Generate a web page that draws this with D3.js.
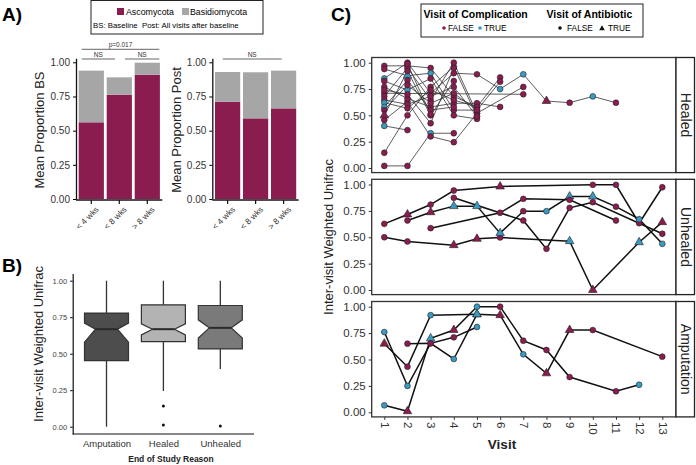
<!DOCTYPE html>
<html><head><meta charset="utf-8">
<script src="https://cdn.jsdelivr.net/npm/d3@7"></script>
<style>
html,body{margin:0;padding:0;background:#fff;}
svg{display:block;font-family:"Liberation Sans",Arial,sans-serif;}
</style></head>
<body><svg id="c" width="696" height="465"></svg>
<script>
// ---------- DATA ----------
const barCats = ["< 4 wks", "< 8 wks", "> 8 wks"];
const bsAsco = [0.561, 0.763, 0.909];
const bsBasidio = [0.378, 0.127, 0.088];
const postAsco = [0.712, 0.590, 0.663];
const postBasidio = [0.217, 0.337, 0.276];
const barTicks = [0, 0.25, 0.5, 0.75, 1];

const boxGroups = ["Amputation", "Healed", "Unhealed"];
const boxMin = [0.0, 0.245, 0.396];
const boxQ1 = [0.453, 0.583, 0.533];
const boxMed = [0.668, 0.668, 0.677];
const boxQ3 = [0.778, 0.835, 0.830];
const boxMax = [1.0, 1.0, 1.0];
const boxNotchLo = [0.579, 0.629, 0.607];
const boxNotchHi = [0.71, 0.705, 0.732];
const boxOutliers = [[], [0.142, 0.012], [0.005]];
const boxFill = ["#4d4d4d", "#b3b3b3", "#7a7a7a"];

const visits = [1,2,3,4,5,6,7,8,9,10,11,12,13];
const facetNames = ["Healed", "Unhealed", "Amputation"];
// each series: visits, values, complication flags, antibiotic flags
const healedVisits = [
 [1,2,3,4],[1,2,3,4,5],[1,2],[1,2,3,4,5],[1,2,3,4,5,6],[1,2,3,4,5,6],
 [1,2,3,4,5,6,7,8,9,10,11],[1,2,3,4,5],[1,7],[1,2,3,4,5,6],[1,2,3,4,5,7],
 [1,2,3,4,5],[1,2,3,4,5],[1,2,3,4],[1,2,3,4,5],[1,2,3,4],[1,2,3,4],[2,3]];
const healedValues = [
 [0.02,0.02,0.33,0.33],[0.145,0.50,0.77,0.96,0.49],[0.40,0.36],[0.456,0.63,0.30,0.245,0.52],
 [0.97,0.97,0.95,0.68,0.58,0.86],[0.94,0.877,0.90,0.55,0.55,0.82],
 [0.85,1.0,0.71,0.90,0.89,0.75,0.89,0.636,0.62,0.68,0.62],[0.826,0.74,0.85,0.50,0.466],
 [0.71,0.70],[0.77,0.66,0.58,0.615,0.615,0.58],[0.68,0.95,0.646,1.0,0.52,0.77],
 [0.646,0.605,0.68,0.77,0.49],[0.62,0.567,0.74,0.646,0.58],[0.58,0.835,0.55,0.58],
 [0.55,0.788,0.615,0.71,0.55],[0.50,0.92,0.50,0.826],[0.74,0.70,0.425,0.95],[0.99,0.51]];
const healedComp = [
 [0,0,1,0],[0,0,0,1,0],[1,0],[0,0,0,0,0],[0,0,0,0,0,0],[0,1,1,0,0,0],
 [1,0,0,0,0,1,1,0,0,1,0],[0,1,0,0,0],[0,0],[0,0,0,0,0,0],[0,0,0,0,0,0],
 [0,0,0,0,0],[1,0,0,0,0],[1,0,0,0],[0,0,0,0,0],[0,0,0,0],[0,0,0,0],[0,0]];
const healedAbx = [
 [0,0,0,0],[0,0,0,0,0],[0,0],[0,0,0,0,0],[0,0,0,0,0,0],[0,1,0,0,0,0],
 [0,0,0,0,0,0,0,1,0,0,0],[0,0,0,0,0],[0,0],[0,0,0,0,0,0],[0,0,0,0,0,0],
 [0,0,0,0,0],[0,0,0,0,0],[0,0,0,0],[0,0,0,0,0],[1,0,0,0],[0,0,0,0],[0,0]];

const unhealedVisits = [
 [1,2,3,4,6,10,11,12,13],[1,2,4,5,6,9,10,12,13],[2,3,4,5,6,7,8,9,10,11,12,13],
 [3,6,7,9,11],[4,7,8,9,10,13]];
const unhealedValues = [
 [0.627,0.716,0.81,0.943,0.981,0.997,0.997,0.633,0.974],
 [0.50,0.46,0.425,0.485,0.498,0.463,0.0,0.453,0.643],
 [0.659,0.737,0.795,0.795,0.539,0.747,0.747,0.886,0.886,0.79,0.671,0.438],
 [0.586,0.732,0.864,0.855,0.659],
 [0.874,0.659,0.39,0.779,0.832,0.533]];
const unhealedComp = [
 [0,0,0,0,0,0,0,0,0],[0,0,0,0,0,1,0,1,0],[0,0,1,1,1,0,1,1,1,0,1,1],[0,0,0,0,0],[0,0,0,0,0,0]];
const unhealedAbx = [
 [0,1,0,0,1,0,0,0,0],[0,0,1,1,0,1,1,1,1],[0,1,1,1,1,0,0,1,1,0,0,0],[0,0,0,0,0],[0,0,0,0,0,0]];

const amputVisits = [[1,2,3,4,5],[1,2,3,4,5,6,7,8,9,11,12],[1,2,3,5,6,7,8,9,10,13],[2,3,4,5]];
const amputValues = [
 [0.76,0.25,0.653,0.71,0.808],
 [0.066,0.01,0.70,0.779,1.0,1.0,0.678,0.59,0.334,0.199,0.261],
 [0.65,0.432,0.92,0.928,0.92,0.549,0.369,0.779,0.779,0.527],
 [0.65,0.653,0.505,0.928]];
const amputComp = [[1,1,0,0,1],[1,0,1,0,1,0,0,0,0,0,1],[0,0,1,1,0,1,0,0,0,0],[0,0,1,1]];
const amputAbx = [[0,0,0,0,0],[0,1,1,1,0,0,0,0,0,0,0],[1,0,0,1,1,0,1,1,0,0],[0,0,0,1]];

// ---------- STYLE ----------
const MAG = "#8b1c50", GRY = "#a6a6a6", CYAN = "#3a9ac0";
const svg = d3.select("#c");

// panel letters
[["A)",2,21],["B)",2,272],["C)",331,21]].forEach(([t,x,y])=>{
  svg.append("text").attr("x",x).attr("y",y).attr("font-size",19).attr("font-weight","bold").text(t);
});

// ---------- PANEL A ----------
const legA = svg.append("g");
legA.append("rect").attr("x",91).attr("y",0.5).attr("width",172).attr("height",33.5)
  .attr("fill","none").attr("stroke","#222").attr("stroke-width",1);
legA.append("rect").attr("x",117).attr("y",8).attr("width",7).attr("height",7).attr("fill",MAG);
legA.append("text").attr("x",126).attr("y",15).attr("font-size",8.8).text("Ascomycota");
legA.append("rect").attr("x",182).attr("y",8).attr("width",7).attr("height",7).attr("fill",GRY);
legA.append("text").attr("x",190).attr("y",15).attr("font-size",8.8).text("Basidiomycota");
legA.append("text").attr("x",93).attr("y",27.5).attr("font-size",7.8).attr("xml:space","preserve")
  .text("BS: Baseline  Post: All visits after baseline");

const yA = d3.scaleLinear().domain([0, 1.03]).range([199, 199 - 1.03*136.7]);
function barChart(x0, x1, axisX, asco, basid, title, titleX) {
  const xb = d3.scaleBand().domain(barCats).range([x0, x1]).paddingInner(0.1).paddingOuter(0.05);
  const g = svg.append("g");
  barCats.forEach((c,i)=>{
    g.append("rect").attr("x",xb(c)).attr("width",xb.bandwidth())
      .attr("y",yA(asco[i])).attr("height",yA(0)-yA(asco[i])).attr("fill",MAG);
    g.append("rect").attr("x",xb(c)).attr("width",xb.bandwidth())
      .attr("y",yA(asco[i]+basid[i])).attr("height",yA(asco[i])-yA(asco[i]+basid[i])).attr("fill",GRY);
  });
  const ax = g.append("g").attr("transform",`translate(${axisX},0)`)
    .call(d3.axisLeft(yA).tickValues(barTicks).tickFormat(d3.format(".2f")).tickSize(3).tickSizeOuter(0));
  ax.selectAll("text").attr("font-size",10).attr("fill","#333");
  ax.select(".domain").attr("stroke","#111").attr("stroke-width",1.3);
  const bx = g.append("g").attr("transform",`translate(0,200)`)
    .call(d3.axisBottom(xb).tickSize(4).tickSizeOuter(0));
  bx.select(".domain").attr("d",`M${axisX},0H${x1+1}`).attr("stroke","#111").attr("stroke-width",1.3);
  bx.selectAll(".tick line").attr("stroke","#111").attr("stroke-width",1.2);
  bx.selectAll("text").attr("font-size",8.3).attr("fill","#333").attr("text-anchor","end")
    .attr("transform","translate(2,4) rotate(-45)").attr("dy","0.3em").attr("x",0).attr("y",6);
  svg.append("text").attr("transform",`translate(${titleX},130) rotate(-90)`)
    .attr("text-anchor","middle").attr("font-size",13).attr("fill","#222").text(title);
  return xb;
}
barChart(77.3, 161.3, 76, bsAsco, bsBasidio, "Mean Proportion BS", 44);
barChart(213.6, 297.6, 212.3, postAsco, postBasidio, "Mean Proportion Post", 181);

function sig(x0,x1,y,label){
  svg.append("line").attr("x1",x0).attr("x2",x1).attr("y1",y).attr("y2",y).attr("stroke","#666").attr("stroke-width",1);
  svg.append("text").attr("x",(x0+x1)/2).attr("y",y-2).attr("text-anchor","middle").attr("font-size",6.5).attr("fill","#333").text(label);
}
sig(81.7,159.3,49.3,"p=0.017");
sig(81.7,115,59,"NS");
sig(125,159.3,59,"NS");
sig(222.7,281.7,59,"NS");

// ---------- PANEL B ----------
const yB = d3.scaleLinear().domain([-0.05, 1.05]).range([434, 273.4]);
const xB = d3.scalePoint().domain(boxGroups).range([106.5, 220.3]);
const gB = svg.append("g");
const bw = 44;
boxGroups.forEach((gname,i)=>{
  const cx = xB(gname), h = bw/2, n = h*0.5;
  gB.append("line").attr("x1",cx).attr("x2",cx).attr("y1",yB(boxMax[i])).attr("y2",yB(boxQ3[i])).attr("stroke","#333").attr("stroke-width",1.3);
  gB.append("line").attr("x1",cx).attr("x2",cx).attr("y1",yB(boxQ1[i])).attr("y2",yB(boxMin[i])).attr("stroke","#333").attr("stroke-width",1.3);
  const p = d3.path();
  p.moveTo(cx-h, yB(boxQ1[i]));
  p.lineTo(cx-h, yB(boxNotchLo[i]));
  p.lineTo(cx-n, yB(boxMed[i]));
  p.lineTo(cx-h, yB(boxNotchHi[i]));
  p.lineTo(cx-h, yB(boxQ3[i]));
  p.lineTo(cx+h, yB(boxQ3[i]));
  p.lineTo(cx+h, yB(boxNotchHi[i]));
  p.lineTo(cx+n, yB(boxMed[i]));
  p.lineTo(cx+h, yB(boxNotchLo[i]));
  p.lineTo(cx+h, yB(boxQ1[i]));
  p.closePath();
  gB.append("path").attr("d",p.toString()).attr("fill",boxFill[i]).attr("stroke","#333").attr("stroke-width",1.2);
  gB.append("line").attr("x1",cx-n).attr("x2",cx+n).attr("y1",yB(boxMed[i])).attr("y2",yB(boxMed[i])).attr("stroke","#2a2a2a").attr("stroke-width",2);
  boxOutliers[i].forEach(v=>{
    gB.append("circle").attr("cx",cx).attr("cy",yB(v)).attr("r",1.5).attr("fill","#111");
  });
});
const axB = gB.append("g").attr("transform","translate(72.7,0)")
  .call(d3.axisLeft(yB).tickValues([0,0.25,0.5,0.75,1]).tickFormat(d3.format(".2f")).tickSize(2.5).tickSizeOuter(0));
axB.selectAll("text").attr("font-size",7.5).attr("fill","#444");
axB.select(".domain").attr("stroke","#111").attr("stroke-width",1.2);
const axBx = gB.append("g").attr("transform","translate(0,434)")
  .call(d3.axisBottom(xB).tickSize(0).tickSizeOuter(0).tickPadding(6));
axBx.select(".domain").attr("d","M72.7,0H254").attr("stroke","#111").attr("stroke-width",1.2);
axBx.selectAll("text").attr("font-size",9.5).attr("fill","#333");
svg.append("text").attr("x",171).attr("y",462).attr("text-anchor","middle").attr("font-size",8.5).attr("font-weight","bold").attr("fill","#222").text("End of Study Reason");
svg.append("text").attr("transform","translate(43,344) rotate(-90)").attr("text-anchor","middle").attr("font-size",13).attr("fill","#222").text("Inter-visit Weighted Unifrac");

// ---------- PANEL C ----------
const legC = svg.append("g");
legC.append("rect").attr("x",421).attr("y",4).attr("width",222).attr("height",33).attr("fill","none").attr("stroke","#222").attr("stroke-width",1);
legC.append("text").attr("x",423.5).attr("y",17.5).attr("font-size",10.5).attr("font-weight","bold").text("Visit of Complication");
legC.append("text").attr("x",546.5).attr("y",17.5).attr("font-size",10.5).attr("font-weight","bold").text("Visit of Antibiotic");
legC.append("circle").attr("cx",444).attr("cy",28).attr("r",1.8).attr("fill",MAG);
legC.append("text").attr("x",448).attr("y",31).attr("font-size",8.3).text("FALSE");
legC.append("circle").attr("cx",480).attr("cy",28).attr("r",1.8).attr("fill",CYAN);
legC.append("text").attr("x",484).attr("y",31).attr("font-size",8.3).text("TRUE");
legC.append("circle").attr("cx",560).attr("cy",28).attr("r",1.8).attr("fill","#111");
legC.append("text").attr("x",567).attr("y",31).attr("font-size",8.3).text("FALSE");
legC.append("path").attr("d",d3.symbol(d3.symbolTriangle,14)()).attr("transform","translate(602,28.5)").attr("fill","#111");
legC.append("text").attr("x",608).attr("y",31).attr("font-size",8.3).text("TRUE");

const xC = d3.scaleLinear().domain([1,13]).range([384.3, 662.3]);
const panelY = [[62.7,168],[184.5,290],[306.7,412.3]];
const panelData = [
  [healedVisits, healedValues, healedComp, healedAbx, 0.8, "#333"],
  [unhealedVisits, unhealedValues, unhealedComp, unhealedAbx, 1.5, "#111"],
  [amputVisits, amputValues, amputComp, amputAbx, 1.5, "#111"]];
const plotL = 371.7, plotR = 676;
facetNames.forEach((name,k)=>{
  const [y1,y0] = panelY[k];
  const yC = d3.scaleLinear().domain([0,1]).range([y0,y1]);
  const top = y1-5.2, bot = y0+4.6;
  const g = svg.append("g");
  const [vs, vals, comp, abx, lw, lc] = panelData[k];
  const line = d3.line().x(d=>xC(d[0])).y(d=>yC(d[1]));
  vs.forEach((vv,s)=>{
    const pts = vv.map((v,j)=>[v, vals[s][j]]);
    g.append("path").attr("d",line(pts)).attr("fill","none").attr("stroke",lc).attr("stroke-width",lw);
  });
  vs.forEach((vv,s)=>{
    vv.forEach((v,j)=>{
      const fill = comp[s][j] ? CYAN : MAG;
      if (abx[s][j]) {
        g.append("path").attr("d",d3.symbol(d3.symbolTriangle,32)())
          .attr("transform",`translate(${xC(v)},${yC(vals[s][j])})`)
          .attr("fill",fill).attr("stroke","#222").attr("stroke-width",0.6);
      } else {
        g.append("circle").attr("cx",xC(v)).attr("cy",yC(vals[s][j])).attr("r",2.9)
          .attr("fill",fill).attr("stroke","#222").attr("stroke-width",0.6);
      }
    });
  });
  g.append("rect").attr("x",plotL).attr("y",top).attr("width",plotR-plotL).attr("height",bot-top)
    .attr("fill","none").attr("stroke","#333").attr("stroke-width",1.3);
  g.append("rect").attr("x",plotR).attr("y",top).attr("width",18.5).attr("height",bot-top)
    .attr("fill","#fff").attr("stroke","#222").attr("stroke-width",1.3);
  g.append("text").attr("transform",`translate(${plotR+4.5},${(top+bot)/2}) rotate(90)`)
    .attr("text-anchor","middle").attr("font-size",14).attr("fill","#222").text(name);
  const ay = g.append("g").attr("transform",`translate(${plotL},0)`)
    .call(d3.axisLeft(yC).tickValues([0,0.25,0.5,0.75,1]).tickFormat(d3.format(".2f")).tickSize(3).tickSizeOuter(0));
  ay.select(".domain").remove();
  ay.selectAll("line").attr("stroke","#333");
  ay.selectAll("text").attr("font-size",11.5).attr("fill","#333");
  if (k===2) {
    const ax = g.append("g").attr("transform",`translate(0,${bot})`)
      .call(d3.axisBottom(xC).tickValues(visits).tickFormat(d3.format("d")).tickSize(3).tickSizeOuter(0));
    ax.select(".domain").remove();
    ax.selectAll("line").attr("stroke","#333");
    ax.selectAll("text").attr("font-size",11.5).attr("fill","#333")
      .attr("text-anchor","start").attr("transform","rotate(90)").attr("x",5).attr("y",0).attr("dy","0.35em");
  }
});
svg.append("text").attr("x",502).attr("y",449).attr("text-anchor","middle").attr("font-size",13.5).attr("font-weight","bold").attr("fill","#222").text("Visit");
svg.append("text").attr("transform","translate(333,237) rotate(-90)").attr("text-anchor","middle").attr("font-size",13).attr("fill","#222").text("Inter-visit Weighted Unifrac");
</script></body></html>
